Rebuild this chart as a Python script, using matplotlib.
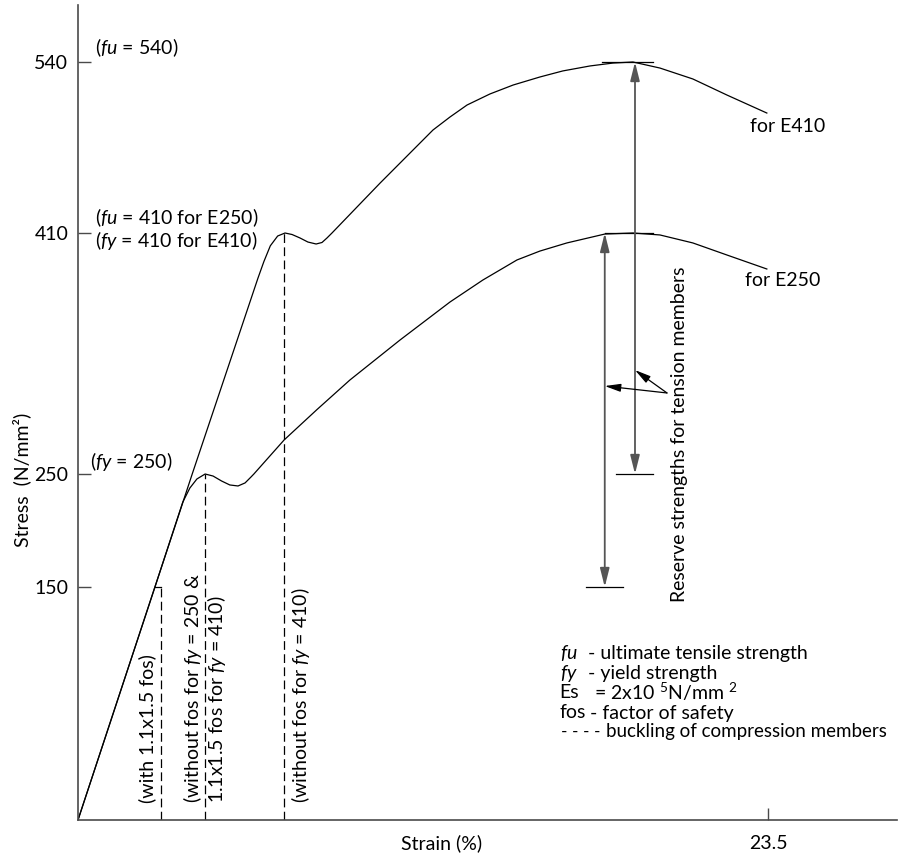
import numpy as np
import matplotlib
matplotlib.use("Agg")
from matplotlib import pyplot as plt

plt.rcParams['font.family'] = ['Lato', 'DejaVu Sans']
plt.rcParams['mathtext.fontset'] = 'custom'
plt.rcParams['mathtext.rm'] = 'Lato'
plt.rcParams['mathtext.it'] = 'Lato:italic'

# schematic (non-linear) stress axis: stress value -> height in px above the strain axis
scale_stress = [0, 150, 250, 410, 540, 583]
scale_height = [0, 233, 346, 587, 758, 815]

stress_ticks = [150, 250, 410, 540]
strain_ticks = [23.5]

e410_strain = [0, 2.62, 3.89, 6.13, 6.33, 6.55, 6.80, 7.05, 7.29, 7.56, 7.83, 8.11, 8.31,
               8.48, 8.65, 10.29, 12.09, 12.67, 13.25, 14.03, 14.82, 15.73, 16.51, 17.44,
               18.22, 18.90, 19.82, 20.94, 22.10, 23.46]
e410_stress = [0, 150, 250, 380.1, 391.0, 401.5, 408.0, 410, 409.0, 406.7, 404.0, 402.7, 403.7,
               406.7, 410, 448.0, 488.3, 498.2, 507.3, 515.7, 522.5, 528.6, 533.2, 537.0,
               539.2, 540, 535.4, 527.1, 514.9, 501.2]

e250_strain = [0, 2.62, 3.57, 3.81, 4.05, 4.33, 4.60, 4.89, 5.17, 5.45, 5.69, 5.89, 5.99,
               7.02, 8.14, 9.26, 10.97, 12.67, 13.79, 14.95, 15.73, 16.65, 17.94, 18.90, 19.82,
               20.94, 22.10, 23.46]
e250_stress = [0, 150, 225.2, 237.6, 245.6, 250, 248.2, 243.8, 240.3, 239.4, 242.1, 247.3, 250,
               272.6, 292.8, 312.4, 339.0, 364.2, 378.8, 392.1, 398.0, 403.4, 409.3, 410, 408.7,
               403.4, 395.4, 386.1]

# buckling limits (dashed)
buckling_strain = [2.83, 4.33, 7.02]
buckling_stress = [150, 250, 410]
cap150_strain = [2.62, 2.83]

# reserve strength arrows: strain, from stress, to stress
reserve_strain = [18.97, 17.94]
reserve_low = [250, 150]
reserve_high = [540, 410]
cap_low_ext = [(18.31, 19.57), (17.30, 18.56)]
cap_high_ext = [(17.85, 19.57), (17.94, 19.57)]
pointer_from = (20.06, 303.8)
pointer_to = [(17.94, 308.4), (18.97, 319.0)]


def fwd(v):
    return np.interp(v, scale_stress, scale_height)


def inv(h):
    return np.interp(h, scale_height, scale_stress)


W, H = 899, 857
fig = plt.figure(figsize=(W / 100, H / 100), dpi=100)
ax = fig.add_axes([78 / W, (H - 820) / H, (897 - 78) / W, (820 - 5) / H])
ax.set_yscale('function', functions=(fwd, inv))
ax.set_xlim(0, (897 - 78) / 29.362)
ax.set_ylim(0, 583)


def px(x, y):
    return x / W, 1 - y / H


ax.plot(e410_strain, e410_stress, color='black', lw=0.9)
ax.plot(e250_strain, e250_stress, color='black', lw=0.9)

for s, f in zip(buckling_strain, buckling_stress):
    ax.plot([s, s], [0, f], color='black', lw=0.9, ls=(0, (7, 3.5)))
ax.plot(cap150_strain, [150, 150], color='black', lw=0.9)

for s, lo, hi, cl, ch in zip(reserve_strain, reserve_low, reserve_high, cap_low_ext, cap_high_ext):
    ax.annotate('', xy=(s, hi), xytext=(s, lo),
                arrowprops=dict(arrowstyle='<|-|>,head_length=0.8,head_width=0.2',
                                mutation_scale=14, color='#555555', lw=1.3,
                                shrinkA=0, shrinkB=0))
    ax.plot(cl, [lo, lo], color='black', lw=0.9)
    ax.plot(ch, [hi, hi], color='black', lw=0.9)

for tgt in pointer_to:
    ax.annotate('', xy=tgt, xytext=pointer_from,
                arrowprops=dict(arrowstyle='-|>,head_length=0.8,head_width=0.2',
                                mutation_scale=12, color='black', lw=0.9,
                                shrinkA=0, shrinkB=0))

for side in ['top', 'right']:
    ax.spines[side].set_visible(False)
for side in ['left', 'bottom']:
    ax.spines[side].set_color('#4a4a4a')
    ax.spines[side].set_linewidth(1.2)

fs = 14
ax.set_yticks(stress_ticks)
ax.set_yticklabels([str(v) for v in stress_ticks])
ax.set_xticks(strain_ticks)
ax.set_xticklabels(['23.5'])
ax.yaxis.set_minor_locator(matplotlib.ticker.NullLocator())
ax.xaxis.set_minor_locator(matplotlib.ticker.NullLocator())
ax.tick_params(axis='y', direction='in', length=9, width=1, color='#4a4a4a',
               labelsize=fs, pad=7)
ax.tick_params(axis='x', direction='in', length=9, width=1, color='#4a4a4a',
               labelsize=fs, pad=11)

fig.text(*px(22, 480), 'Stress  (N/mm²)', rotation=90, ha='center', va='center', fontsize=fs)
fig.text(*px(442, 843), 'Strain (%)', ha='center', va='center', fontsize=fs)

fig.text(*px(95, 48), r'($\mathit{fu}$ = 540$\mathit{)}$', ha='left', va='center', fontsize=fs)
fig.text(*px(95, 218), r'($\mathit{fu}$ = 410 for E250$\mathit{)}$', ha='left', va='center', fontsize=fs)
fig.text(*px(95, 241), r'($\mathit{fy}$ = 410 for E410$\mathit{)}$', ha='left', va='center', fontsize=fs)
fig.text(*px(90, 462), r'($\mathit{fy}$ = 250$\mathit{)}$', ha='left', va='center', fontsize=fs)

fig.text(*px(750, 127), 'for E410', ha='left', va='center', fontsize=fs)
fig.text(*px(745, 280), 'for E250', ha='left', va='center', fontsize=fs)

fig.text(*px(147, 803), '(with 1.1x1.5 fos)', rotation=90, ha='center', va='bottom', fontsize=fs)
fig.text(*px(193, 803), r'(without fos for $\mathit{fy}$ = 250 &', rotation=90,
         ha='center', va='bottom', fontsize=fs)
fig.text(*px(217, 803), r'1.1x1.5 fos for $\mathit{fy}$ = 410)', rotation=90,
         ha='center', va='bottom', fontsize=fs)
fig.text(*px(300, 803), r'(without fos for $\mathit{fy}$ = 410)', rotation=90,
         ha='center', va='bottom', fontsize=fs)
fig.text(*px(680, 602), 'Reserve strengths for tension members', rotation=90,
         ha='center', va='bottom', fontsize=fs)

fig.text(*px(560, 653), r'$\mathit{fu}$', ha='left', va='center', fontsize=fs)
fig.text(*px(588, 653), '- ultimate tensile strength', ha='left', va='center', fontsize=fs)
fig.text(*px(560, 673), r'$\mathit{fy}$', ha='left', va='center', fontsize=fs)
fig.text(*px(588, 673), '- yield strength', ha='left', va='center', fontsize=fs)
fig.text(*px(559, 692), 'Es', ha='left', va='center', fontsize=fs)
fig.text(*px(594, 692), r'= 2x10 $^{5}$N/mm $^{2}$', ha='left', va='center', fontsize=fs)
fig.text(*px(559, 713), 'fos', ha='left', va='center', fontsize=fs)
fig.text(*px(590, 713), '- factor of safety', ha='left', va='center', fontsize=fs)
fig.text(*px(561, 732), '- - - -', ha='left', va='center', fontsize=fs - 1.5)
fig.text(*px(606, 732), 'buckling of compression members', ha='left', va='center', fontsize=fs - 0.5)

fig.savefig('out.png', dpi=100)
